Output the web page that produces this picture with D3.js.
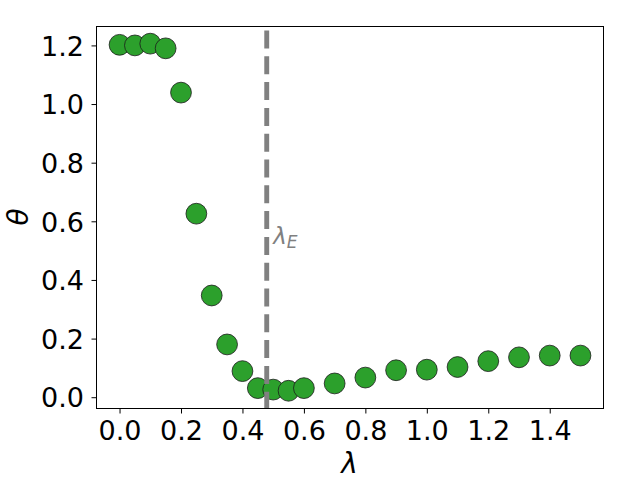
<!DOCTYPE html>
<html>
<head>
<meta charset="utf-8">
<script src="https://cdn.jsdelivr.net/npm/d3@7"></script>
<style>
  body { margin: 0; background: #fff; }
  text { font-family: 'DejaVu Sans', sans-serif; }
</style>
</head>
<body>
<div class="chart"></div>
<script>
const width = 640, height = 480

// data
const lambdas = [0.0, 0.05, 0.1, 0.15, 0.2, 0.25, 0.3, 0.35, 0.4, 0.45, 0.5, 0.55, 0.6,
                 0.7, 0.8, 0.9, 1.0, 1.1, 1.2, 1.3, 1.4, 1.5]
const thetas = [1.202, 1.200, 1.206, 1.190, 1.039, 0.626, 0.347, 0.180, 0.089, 0.031, 0.026, 0.022, 0.031,
                0.047, 0.067, 0.092, 0.094, 0.103, 0.123, 0.136, 0.142, 0.142]
const xTicks = [0, 0.2, 0.4, 0.6, 0.8, 1.0, 1.2, 1.4]
const yTicks = [0, 0.2, 0.4, 0.6, 0.8, 1.0, 1.2]
const lambdaE = 0.479
const lambdaELabel = { x: 0.5, y: 0.524 }

const svg = d3.select('.chart').append('svg')
    .attr('width', width)
    .attr('height', height)

const x = d3.scaleLinear().domain([-0.075, 1.575]).range([96.5, 603.5])
const y = d3.scaleLinear().domain([-0.0385, 1.2645]).range([408.5, 26.5])

// points
svg.append('g').attr('class', 'points')
    .selectAll('circle')
    .data(lambdas.map((l, i) => ({ l: l, t: thetas[i] })))
    .enter().append('circle')
    .attr('cx', d => x(d.l))
    .attr('cy', d => y(d.t))
    .attr('r', 10.4)
    .style('fill', '#2ca02c')
    .style('stroke', '#1a1a1a')
    .style('stroke-width', 0.8)

// vertical dashed line at lambda_E
svg.append('line')
    .attr('x1', x(lambdaE)).attr('x2', x(lambdaE))
    .attr('y1', y.range()[1]).attr('y2', y.range()[0])
    .style('stroke', 'gray')
    .style('stroke-width', 4.9)
    .style('stroke-dasharray', '18,7.8')
    .attr('stroke-dashoffset', -4)

const lbl = svg.append('text')
    .attr('x', x(lambdaELabel.x))
    .attr('y', y(lambdaELabel.y))
    .style('fill', 'gray')
    .style('font-size', '23px')
    .style('font-style', 'italic')
lbl.append('tspan').text('λ')
lbl.append('tspan').text('E').attr('dy', 4).style('font-size', '17px')

// axes
const xAxis = svg.append('g')
    .attr('transform', 'translate(0,408.5)')
    .call(d3.axisBottom(x).tickValues(xTicks).tickFormat(d3.format('.1f')).tickSize(5).tickPadding(7).tickSizeOuter(0))
const yAxis = svg.append('g')
    .attr('transform', 'translate(96.5,0)')
    .call(d3.axisLeft(y).tickValues(yTicks).tickFormat(d3.format('.1f')).tickSize(5).tickPadding(7.5).tickSizeOuter(0))

;[xAxis, yAxis].forEach(a => {
    a.select('.domain').remove()
    a.selectAll('text').style('font-size', '27px').style('fill', '#000')
        .style('font-family', "'DejaVu Sans', sans-serif")
    a.selectAll('line').style('stroke', '#000').style('stroke-width', 1)
})
yAxis.selectAll('text').attr('dy', '0.36em')

// frame
svg.append('rect')
    .attr('x', 96.5).attr('y', 26.5)
    .attr('width', 507).attr('height', 382)
    .style('fill', 'none')
    .style('stroke', '#000')
    .style('stroke-width', 1)

// axis labels
svg.append('text')
    .text('λ')
    .attr('x', (96 + 603) / 2)
    .attr('y', 473)
    .style('text-anchor', 'middle')
    .style('font-size', '28px')
    .style('font-style', 'italic')

svg.append('text')
    .text('θ')
    .attr('transform', 'translate(28,217) rotate(-90)')
    .style('text-anchor', 'middle')
    .style('font-size', '28px')
    .style('font-style', 'italic')
</script>
</body>
</html>
